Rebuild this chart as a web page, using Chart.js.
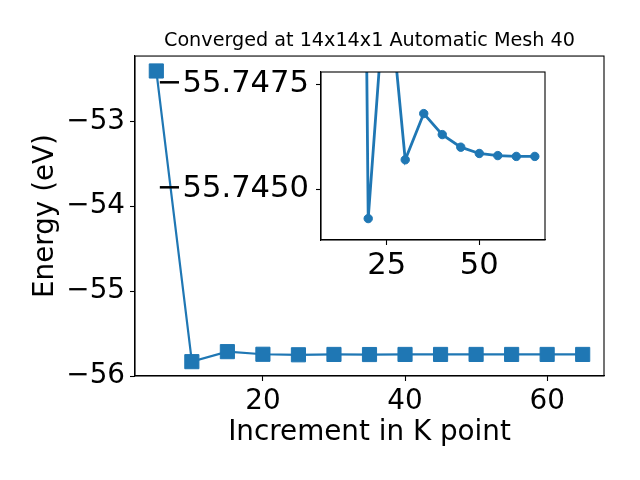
<!DOCTYPE html>
<html>
<head>
<meta charset="utf-8">
<script src="https://cdn.jsdelivr.net/npm/chart.js@4"></script>
<style>
  html, body { margin: 0; padding: 0; background: #fff; }
  #wrap { position: relative; width: 640px; height: 480px; }
  #wrap canvas { position: absolute; left: 0; top: 0; }
</style>
</head>
<body>
<div id="wrap">
  <canvas id="main" width="640" height="480"></canvas>
  <canvas id="inset" width="640" height="480"></canvas>
</div>
<script>
const kPoints  = [5, 10, 15, 20, 25, 30, 35, 40, 45, 50, 55, 60, 65]
const energies = [-52.406, -55.831, -55.713, -55.744, -55.750, -55.746, -55.747,
                  -55.746, -55.746, -55.746, -55.746, -55.746, -55.746]

const insetK        = [10, 15, 20, 25, 30, 35, 40, 45, 50, 55, 60, 65]
const insetEnergies = [-55.831, -55.79, -55.7443, -55.7503, -55.7457, -55.7468,
                       -55.7463, -55.7460, -55.74585, -55.7458, -55.74578, -55.74578]

const mainXTicks  = [20, 40, 60]
const mainYTicks  = [-56, -55, -54, -53]
const insetXTicks = [25, 50]
const insetYTicks = [-55.7475, -55.7450]

const titleText  = "Converged at 14x14x1 Automatic Mesh 40"
const xLabel     = "Increment in K point"
const yLabel     = "Energy (eV)"

const blue   = "#1f77b4"
const family = "'DejaVu Sans', sans-serif"
const big    = { family, size: 27.8 }
const bigger = { family, size: 30.6 }
const minus  = v => (v < 0 ? "\u2212" : "") + Math.abs(v)

// black box round the plot area, white face under it if asked
const frame = {
  id: "frame",
  beforeDraw(chart, args, opts) {
    if (!opts.fill) return
    const { ctx, chartArea: a } = chart
    ctx.save()
    ctx.fillStyle = "#fff"
    ctx.fillRect(a.left, a.top, a.right - a.left, a.bottom - a.top)
    ctx.restore()
  },
  afterDraw(chart) {
    const { ctx, chartArea: a } = chart
    ctx.save()
    ctx.strokeStyle = "#000"
    ctx.lineWidth = 1.1
    ctx.strokeRect(a.left, a.top, a.right - a.left, a.bottom - a.top)
    ctx.restore()
  }
}

const axisGrid = { drawOnChartArea: false, drawTicks: true, tickLength: 5, tickColor: "#000", tickWidth: 1.1 }
const axisBorder = { display: true, color: "#000", width: 1.1 }

new Chart(document.getElementById("main"), {
  type: "line",
  data: {
    datasets: [{
      data: kPoints.map((k, i) => ({ x: k, y: energies[i] })),
      borderColor: blue,
      borderWidth: 2.2,
      pointStyle: "rect",
      pointRadius: 10,
      pointBackgroundColor: blue,
      pointBorderColor: blue,
      pointBorderWidth: 1,
      tension: 0,
      clip: false
    }]
  },
  options: {
    responsive: false,
    animation: false,
    layout: { padding: { left: 0, right: 36, top: 0, bottom: 0 } },
    plugins: {
      legend: { display: false },
      tooltip: { enabled: false },
      title: {
        display: true,
        text: titleText,
        fullSize: false,
        color: "#000",
        font: { family, size: 19.2, weight: "normal" },
        padding: { top: 29.8, bottom: 3.2 }
      },
      frame: { fill: false }
    },
    scales: {
      x: {
        type: "linear",
        min: 2, max: 68,
        afterBuildTicks: axis => { axis.ticks = mainXTicks.map(v => ({ value: v })) },
        afterFit: axis => { axis.height = 104 },
        ticks: { color: "#000", font: big, padding: 4, autoSkip: false, maxRotation: 0 },
        grid: axisGrid,
        border: axisBorder,
        title: { display: true, text: xLabel, color: "#000", font: big, padding: { top: 0, bottom: 30.8 } }
      },
      y: {
        type: "linear",
        min: -56.0, max: -52.23,
        afterBuildTicks: axis => { axis.ticks = mainYTicks.map(v => ({ value: v })) },
        afterFit: axis => { axis.width = 135 },
        ticks: { color: "#000", font: big, padding: 5, callback: minus },
        grid: axisGrid,
        border: axisBorder,
        title: { display: true, text: yLabel, color: "#000", font: big, padding: { top: 29.5, bottom: 0 } }
      }
    }
  },
  plugins: [frame]
})

new Chart(document.getElementById("inset"), {
  type: "line",
  data: {
    datasets: [{
      data: insetK.map((k, i) => ({ x: k, y: insetEnergies[i] })),
      borderColor: blue,
      borderWidth: 2.8,
      pointStyle: "circle",
      pointRadius: 4.2,
      pointBackgroundColor: blue,
      pointBorderColor: blue,
      pointBorderWidth: 1,
      tension: 0,
      clip: 0
    }]
  },
  options: {
    responsive: false,
    animation: false,
    events: [],
    layout: { padding: { left: 0, right: 95, top: 72, bottom: 0 } },
    plugins: {
      legend: { display: false },
      tooltip: { enabled: false },
      frame: { fill: true }
    },
    scales: {
      x: {
        type: "linear",
        min: 7.25, max: 67.75,
        afterBuildTicks: axis => { axis.ticks = insetXTicks.map(v => ({ value: v })) },
        afterFit: axis => { axis.height = 240 },
        ticks: { color: "#000", font: bigger, padding: 3, autoSkip: false, maxRotation: 0 },
        grid: axisGrid,
        border: axisBorder
      },
      y: {
        type: "linear",
        reverse: true,
        min: -55.74779, max: -55.74379,
        afterBuildTicks: axis => { axis.ticks = insetYTicks.map(v => ({ value: v })) },
        afterFit: axis => { axis.width = 321 },
        ticks: { color: "#000", font: bigger, padding: 7, callback: v => "\u2212" + Math.abs(v).toFixed(4) },
        grid: axisGrid,
        border: axisBorder
      }
    }
  },
  plugins: [frame]
})
</script>
</body>
</html>
